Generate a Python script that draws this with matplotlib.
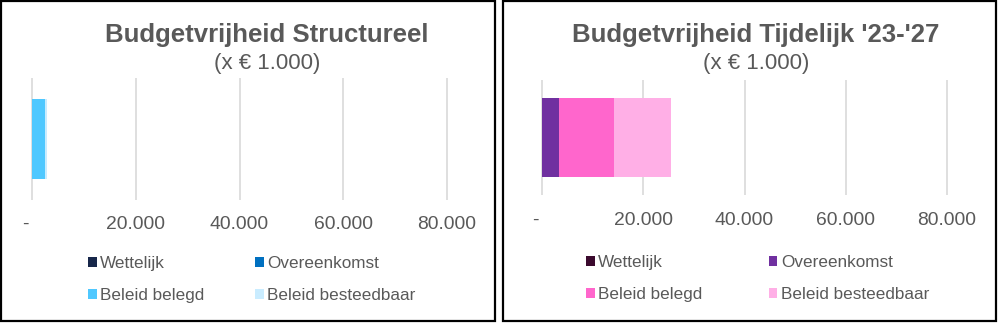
import matplotlib.pyplot as plt
from matplotlib.patches import Patch, Rectangle

plt.rcParams['font.family'] = ['Liberation Sans', 'DejaVu Sans']

categories = ['Wettelijk', 'Overeenkomst', 'Beleid belegd', 'Beleid besteedbaar']
structureel = [0, 0, 2600, 300]
tijdelijk = [0, 3300, 10900, 11300]
ticks = [0, 20000, 40000, 60000, 80000]
tick_labels = ['-  ', '20.000', '40.000', '60.000', '80.000']

colors_struct = ['#17274A', '#0070C0', '#4FC8FF', '#C9ECFF']
colors_tijd = ['#3B0A2E', '#7030A0', '#FF66CC', '#FFAFE6']

GREY = '#595959'
W, H = 999, 325

fig = plt.figure(figsize=(W / 100, H / 100), dpi=100)


def px(x0, y0, w, h):
    # pixel box (top-left origin) -> figure fraction
    return [x0 / W, 1 - (y0 + h) / H, w / W, h / H]


def panel(box, ax_box, values, colors, title, title_x, bar_h, tick_pad, leg_xy, colspace):
    # black frame around the panel
    fig.patches.append(Rectangle((box[0] / W, 1 - box[3] / H), (box[2] - box[0]) / W,
                                 (box[3] - box[1]) / H, transform=fig.transFigure,
                                 fill=False, edgecolor='black', linewidth=1.6))

    ax = fig.add_axes(px(*ax_box))
    left = 0
    for cat, val, col in zip(categories, values, colors):
        ax.barh(0, val, left=left, height=bar_h, color=col, label=cat, zorder=3)
        left += val
    ax.set_xlim(0, 80000)
    ax.set_ylim(-0.5, 0.5)
    ax.vlines(ticks, 0, 1, transform=ax.get_xaxis_transform(), colors='#D9D9D9',
              linewidth=1.2, clip_on=False, zorder=1)
    ax.set_xticks(ticks)
    ax.set_xticklabels(tick_labels, fontsize=13.9, color=GREY)
    ax.tick_params(axis='x', length=0, pad=tick_pad)
    ax.set_yticks([])
    for s in ax.spines.values():
        s.set_visible(False)

    fig.text(title_x / W, 1 - 35 / H, title, ha='center', va='center',
             fontsize=18.5, fontweight='bold', color=GREY)
    fig.text(title_x / W, 1 - 64 / H, '(x € 1.000)', ha='center', va='center',
             fontsize=16, color=GREY)

    # legend reads row by row: reorder for matplotlib's column-first filling
    order = [0, 2, 1, 3]
    handles = [Patch(facecolor=colors[i], edgecolor='none') for i in order]
    labels = [categories[i] for i in order]
    fig.legend(handles, labels, loc='upper left',
               bbox_to_anchor=(leg_xy[0] / W, 1 - leg_xy[1] / H),
               ncol=2, frameon=False, fontsize=12.3, labelcolor=GREY,
               handlelength=0.5, handleheight=0.5, handletextpad=0.2,
               columnspacing=colspace, labelspacing=1.0,
               borderpad=0, borderaxespad=0)


panel((1, 1, 495, 321), (32, 78, 415, 122), structureel, colors_struct,
      'Budgetvrijheid Structureel', 267, 0.66, 11.5, (88, 256), 3.0)
panel((503, 1, 996, 321), (542, 80, 405, 115), tijdelijk, colors_tijd,
      "Budgetvrijheid Tijdelijk '23-'27", 756, 0.68, 12.5, (586, 255), 3.9)

fig.savefig('out.png', dpi=100)
